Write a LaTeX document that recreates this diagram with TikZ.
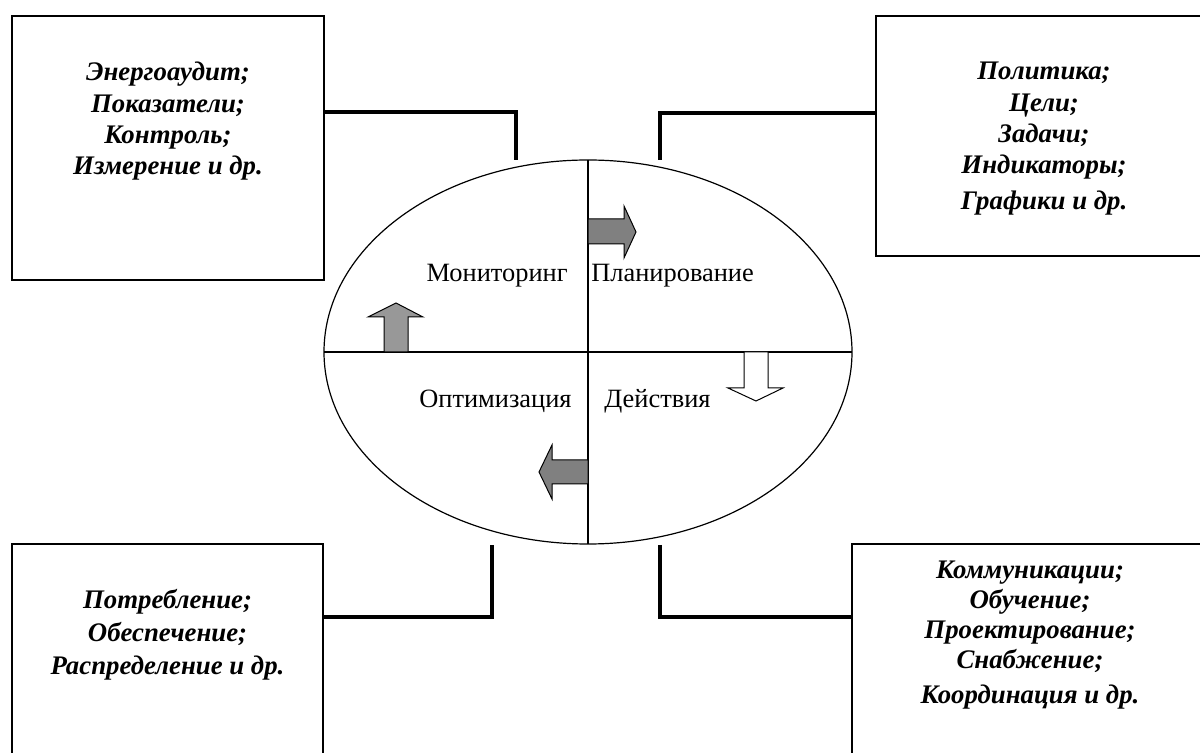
\documentclass[tikz,border=0pt]{standalone}
\usepackage{fontspec}
\setmainfont{Liberation Serif}
\usepackage{tikz}
\usepackage{xcolor}
\usetikzlibrary{positioning}
\definecolor{arrowgray}{HTML}{808080}
\definecolor{lightarrow}{HTML}{989898}
\tikzset{
    info-box/.style = {draw=black, fill=white, line width=0.75pt, rectangle, inner sep=0pt, outer sep=0pt},
    box-text/.style = {align=center, inner sep=0pt, font=\fontsize{13.4}{15.6}\selectfont\bfseries\itshape},
    cycle-label/.style = {inner sep=0pt, font=\fontsize{13.2}{15}\selectfont},
    connector/.style = {line width=2pt, line join=miter},
    block-arrow/.style = {draw=black, line width=0.5pt, line join=miter},
}
\begin{document}
\begin{tikzpicture}[x=0.5pt, y=-0.5pt]
\useasboundingbox (0,0) rectangle (1200,753);
\clip (0,0) rectangle (1200,753);

% four boxes
\node [info-box, minimum width=156pt, minimum height=132pt] (mon) at (168,148) {};
\node [info-box, minimum width=168pt, minimum height=120pt] (plan) at (1044,136) {};
\node [info-box, minimum width=155.5pt, minimum height=138pt] (opt) at (167.5,682) {};
\node [info-box, minimum width=178pt, minimum height=138pt] (act) at (1030,682) {};

\node [box-text, below=23pt of mon.north] (mon-text) {Энергоаудит;\\ Показатели;\\ Контроль;\\ Измерение и др.};
\node [box-text, below=23pt of plan.north] (plan-text) {Политика;\\ Цели;\\ Задачи;\\ Индикаторы;\\[2.5pt] Графики и др.};
\node [box-text, font=\fontsize{13.4}{16.5}\selectfont\bfseries\itshape, below=22.5pt of opt.north] (opt-text) {Потребление;\\ Обеспечение;\\ Распределение и др.};
\node [box-text, font=\fontsize{13.4}{15}\selectfont\bfseries\itshape, below=8.5pt of act.north] (act-text) {Коммуникации;\\ Обучение;\\ Проектирование;\\ Снабжение;\\[2.5pt] Координация и др.};

% the cycle
\coordinate (centre) at (588,352);
\draw [line width=0.6pt] (centre) ellipse [x radius=264, y radius=192];
\coordinate (top) at (588,160);
\coordinate (bottom) at (588,544);
\coordinate (left) at (324,352);
\coordinate (right) at (852,352);
\draw [line width=0.6pt] (top) -- (bottom);
\draw [line width=0.6pt] (left) -- (right);

\node [cycle-label, anchor=base east] (monitoring) at (568,282) {Мониторинг};
\node [cycle-label, anchor=base west] (planning) at (591,282) {Планирование};
\node [cycle-label, anchor=base east] (optimising) at (572,408) {Оптимизация};
\node [cycle-label, anchor=base west] (acting) at (604,408) {Действия};

% block arrows
\draw [block-arrow, fill=arrowgray] (588,219) -- (624,219) -- (624,206) -- (636,232) -- (624,258) -- (624,244) -- (588,244) -- cycle;
\draw [block-arrow, fill=lightarrow] (384,352) -- (384,317) -- (368,317) -- (396,303) -- (423,317) -- (408,317) -- (408,352) -- cycle;
\draw [block-arrow, fill=white] (744,352) -- (744,388) -- (728,388) -- (756,401) -- (783,388) -- (768,388) -- (768,352) -- cycle;
\draw [block-arrow, fill=arrowgray] (588,460) -- (552,460) -- (552,445) -- (539,472) -- (552,499) -- (552,484) -- (588,484) -- cycle;

% connectors
\coordinate (mon-end) at (516,160);
\coordinate (plan-end) at (660,160);
\coordinate (opt-end) at (492,545);
\coordinate (act-end) at (660,545);
\draw [connector] ([yshift=-48pt]mon.north east) -| (mon-end);
\draw [connector] (plan-end) |- ([yshift=-48.3pt]plan.north west);
\draw [connector] ([yshift=-36.3pt]opt.north east) -| (opt-end);
\draw [connector] (act-end) |- ([yshift=-36.3pt]act.north west);
\end{tikzpicture}
\end{document}
